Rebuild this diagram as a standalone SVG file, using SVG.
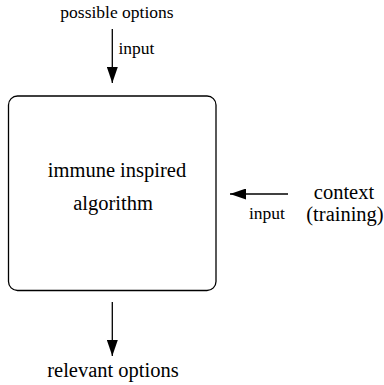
<svg xmlns="http://www.w3.org/2000/svg" width="384" height="385" viewBox="0 0 384 385">
<defs>
<style>
text{font-family:"Liberation Serif","Times New Roman",serif;fill:#000}
.big{font-size:20.5px}
.med{font-size:17.5px}
.line{stroke:#000;stroke-width:1.3;fill:none}
</style>
<marker id="ah" markerWidth="16" markerHeight="11" refX="16" refY="5.5" orient="auto" markerUnits="userSpaceOnUse">
<path d="M0,0 L16,5.5 L0,11 Z" fill="#000"/>
</marker>
</defs>
<rect width="384" height="385" fill="#fff"/>
<g id="algorithm">
<rect x="8.5" y="96" width="207.5" height="194.5" rx="9" ry="9" fill="none" stroke="#000" stroke-width="1.3"/>
<text class="big" x="117" y="177" text-anchor="middle">immune inspired</text>
<text class="big" x="113" y="210" text-anchor="middle">algorithm</text>
</g>
<g id="possible-options">
<text class="med" x="117" y="18" text-anchor="middle">possible options</text>
</g>
<g id="context">
<text class="big" x="344" y="199" text-anchor="middle">context</text>
<text class="big" x="345" y="221" text-anchor="middle">(training)</text>
</g>
<g id="relevant-options">
<text class="big" x="113" y="377" text-anchor="middle">relevant options</text>
</g>
<g id="connectors">
<line class="line" x1="112.3" y1="29" x2="112.3" y2="83" marker-end="url(#ah)"/>
<text class="med" x="118.5" y="54">input</text>
<line class="line" x1="288" y1="194" x2="230" y2="194" marker-end="url(#ah)"/>
<text class="med" x="249" y="219">input</text>
<line class="line" x1="112.3" y1="302" x2="112.3" y2="356" marker-end="url(#ah)"/>
</g>
</svg>
